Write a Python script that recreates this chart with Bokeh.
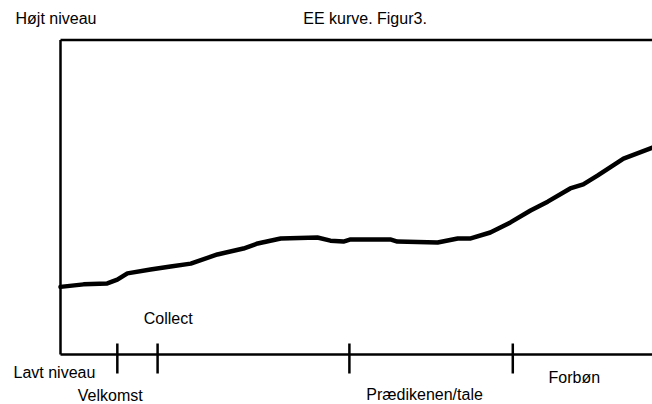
from bokeh.plotting import figure
from bokeh.models import Range1d, Label
from bokeh.embed import file_html
from bokeh.resources import INLINE

# ---- data (x: 0..100 time through the service, y: 0..100 level) ----
curve_x = [0, 3.9, 7.9, 9.6, 11.3, 15.2, 18.6, 22.0, 26.5, 30.9, 33.3, 37.2, 43.4,
           45.6, 47.8, 49.0, 55.7, 56.9, 63.7, 67.1, 69.3, 72.6, 76.0, 79.4, 82.3,
           86.1, 88.3, 90.7, 95.1, 100]
curve_y = [21.5, 22.3, 22.6, 23.8, 25.8, 27.0, 28.0, 28.9, 31.8, 33.7, 35.3, 36.9, 37.2,
           36.2, 35.9, 36.6, 36.6, 35.9, 35.6, 36.9, 36.9, 38.8, 42.0, 45.8, 48.6,
           52.8, 54.1, 56.9, 62.3, 65.8]
section_bounds = [9.6, 16.4, 48.8, 76.4]
section_names = ["Velkomst", "Collect", "Prædikenen/tale", "Forbøn"]
section_label_x = [8.4, 18.2, 61.5, 86.8]
level_names = ["Højt niveau", "Lavt niveau"]
title_text = "EE kurve. Figur3."
x_lo, x_hi = 0, 100
y_lo, y_hi = 0, 100

# ---- layout ----
W, H = 652, 404
LEFT, TOP, BOTTOM = 60, 39.5, 50      # pixel margins around the drawn box
px_x = (W - LEFT) / (x_hi - x_lo)
px_y = (H - TOP - BOTTOM) / (y_hi - y_lo)
FONT = "Liberation Sans"
FS = "16px"
LW = 2.5

p = figure(width=W, height=H,
           x_range=Range1d(x_lo - LEFT / px_x, x_hi),
           y_range=Range1d(y_lo - BOTTOM / px_y, y_hi + TOP / px_y),
           output_backend="svg", toolbar_location=None,
           x_axis_location=None, y_axis_location=None,
           min_border=0)
p.grid.visible = False
p.outline_line_color = None

# axes box (left, top, bottom)
p.segment(x0=[x_lo, x_lo, x_lo], y0=[y_lo, y_hi, y_lo],
          x1=[x_lo, x_hi, x_hi], y1=[y_hi, y_hi, y_lo],
          line_width=LW, line_color="black")
# section ticks on the bottom line
tick_in, tick_out = 11 / px_y, 19 / px_y
p.segment(x0=section_bounds, x1=section_bounds,
          y0=[y_lo - tick_out] * len(section_bounds),
          y1=[y_lo + tick_in] * len(section_bounds),
          line_width=LW, line_color="black")

p.line(curve_x, curve_y, line_width=4.5, line_color="black",
       line_join="round", line_cap="round")

def lab(text, x, y, xo, yo, align="center"):
    p.add_layout(Label(x=x, y=y, x_offset=xo, y_offset=yo, text=text, text_align=align,
                       text_baseline="middle", text_font=FONT, text_font_size=FS,
                       text_color="black"))

offs = [-41, 36, -40, -23]
for name, x, yo in zip(section_names, section_label_x, offs):
    lab(name, x, y_lo, 0, yo)

lab(level_names[0], x_lo, y_hi, -45, 22, "left")
lab(level_names[1], x_lo, y_lo, -47, -18, "left")
lab(title_text, 41.0, y_hi, 0, 22, "left")

open("out.html", "w").write(file_html(p, INLINE))
